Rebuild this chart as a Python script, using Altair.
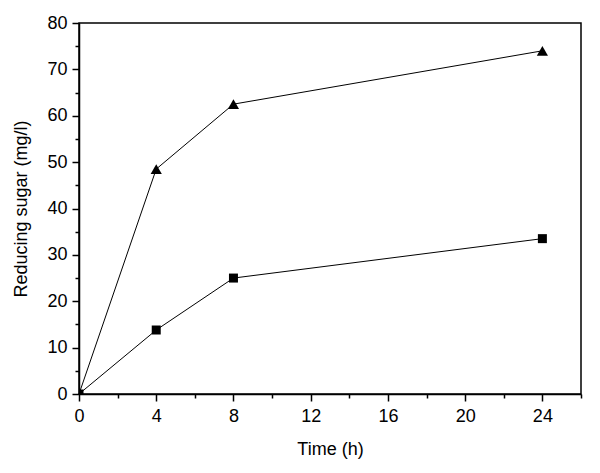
import altair as alt
import pandas as pd

time_h = [0, 4, 8, 24]
series_triangle = [0, 48.5, 62.5, 74.0]
series_square = [0, 13.8, 25.0, 33.5]

rows = []
for t, v in zip(time_h, series_triangle):
    rows.append({"time": t, "value": v, "series": "triangle"})
for t, v in zip(time_h, series_square):
    rows.append({"time": t, "value": v, "series": "square"})
df = pd.DataFrame(rows)

FONT = "Liberation Sans"

x = alt.X(
    "time:Q",
    scale=alt.Scale(domain=[0, 26], nice=False, zero=False),
    axis=alt.Axis(
        title="Time (h)",
        values=list(range(0, 27, 2)),
        labelExpr="datum.value % 4 === 0 && datum.value <= 24 ? datum.label : ''",
        tickSize={"expr": "datum.value % 4 === 0 ? 7 : 4"},
        labelFlush=False,
        grid=False,
    ),
)
y = alt.Y(
    "value:Q",
    scale=alt.Scale(domain=[0, 80], nice=False),
    axis=alt.Axis(
        title="Reducing sugar (mg/l)",
        values=list(range(0, 81, 5)),
        labelExpr="datum.value % 10 === 0 ? datum.label : ''",
        tickSize={"expr": "datum.value % 10 === 0 ? 7 : 4"},
        labelFlush=False,
        grid=False,
    ),
)

base = alt.Chart(df)
lines = base.mark_line(color="black", strokeWidth=1).encode(x=x, y=y, detail="series:N")
points = base.mark_point(filled=True, opacity=1, color="black", clip=True).encode(
    x=x,
    y=y,
    shape=alt.Shape(
        "series:N",
        scale=alt.Scale(domain=["triangle", "square"], range=["triangle-up", "square"]),
        legend=None,
    ),
    size=alt.Size(
        "series:N",
        scale=alt.Scale(domain=["triangle", "square"], range=[125, 81]),
        legend=None,
    ),
)

chart = (
    alt.layer(lines, points)
    .properties(
        width=502,
        height=371,
        autosize=alt.AutoSizeParams(type="none"),
        padding={"left": 71, "top": 15, "right": 11, "bottom": 71},
    )
    .configure_view(stroke="black", strokeWidth=1.5)
    .configure_axis(
        domainColor="black",
        domainWidth=1.5,
        tickColor="black",
        tickWidth=1.5,
        labelColor="black",
        titleColor="black",
        labelFont=FONT,
        titleFont=FONT,
        labelFontSize=18,
        titleFontSize=18,
        titleFontWeight="normal",
    )
    .configure_axisX(labelPadding=6, titlePadding=15)
    .configure_axisY(labelPadding=5, titlePadding=16)
)

chart.save("out.html", embed_options={"renderer": "svg", "actions": False})
